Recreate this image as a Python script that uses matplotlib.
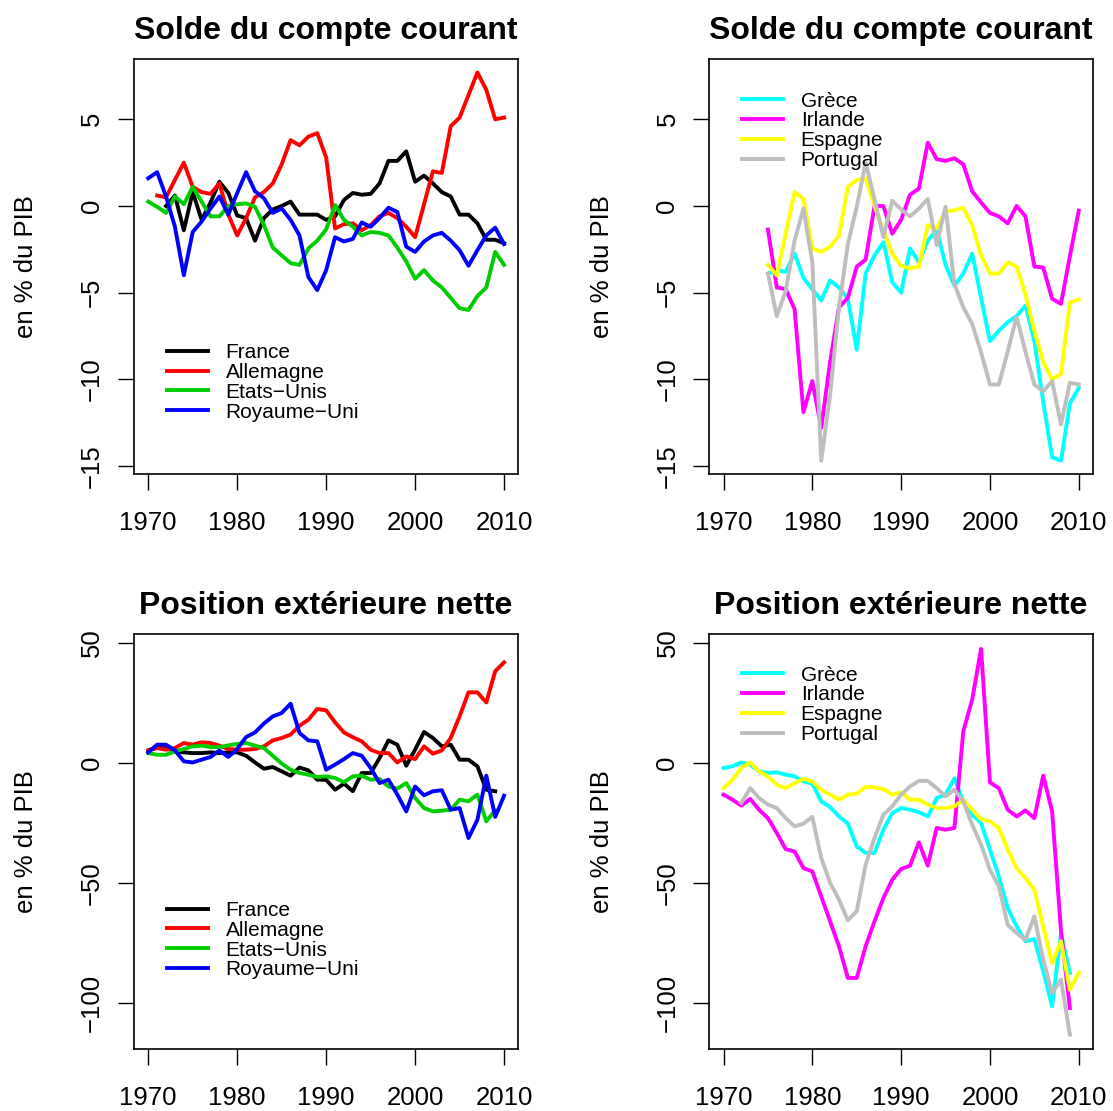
import matplotlib.pyplot as plt
import numpy as np

plt.rcParams['font.family'] = ['Liberation Sans', 'DejaVu Sans']

nan = np.nan
years = np.arange(1970, 2011)

# Solde du compte courant, % du PIB (1970-2010)
cc_france = [nan, nan, 0.0, 0.6, -1.4, 0.8, -0.8, 0.2, 1.4, 0.75, -0.55, -0.7, -2.0, -0.7, -0.2, 0.0,
             0.25, -0.5, -0.5, -0.5, -0.8, -0.6, 0.35, 0.75, 0.65, 0.7, 1.3, 2.6, 2.6, 3.15, 1.4,
             1.75, 1.3, 0.8, 0.55, -0.5, -0.5, -1.0, -1.95, -1.95, -2.15]
cc_allemagne = [nan, 0.6, 0.5, 1.5, 2.5, 1.1, 0.8, 0.7, 1.3, -0.5, -1.7, -0.7, 0.5, 0.8, 1.3, 2.4,
                3.8, 3.5, 4.0, 4.2, 2.8, -1.3, -1.05, -1.0, -1.4, -1.1, -0.6, -0.4, -0.7, -1.2, -1.8,
                0.1, 2.0, 1.9, 4.6, 5.1, 6.4, 7.7, 6.7, 5.0, 5.1]
cc_etatsunis = [0.25, -0.05, -0.4, 0.55, 0.1, 1.1, 0.25, -0.6, -0.6, 0.0, 0.1, 0.15, -0.05, -1.1,
                -2.4, -2.85, -3.3, -3.4, -2.45, -2.0, -1.35, 0.05, -0.8, -1.2, -1.7, -1.5, -1.55,
                -1.7, -2.4, -3.2, -4.2, -3.7, -4.3, -4.7, -5.3, -5.9, -6.0, -5.2, -4.7, -2.65, -3.4]
cc_royaumeuni = [1.6, 1.95, 0.55, -1.2, -4.0, -1.5, -0.9, -0.15, 0.55, -0.5, 0.75, 1.95, 0.85, 0.45,
                 -0.4, -0.15, -0.8, -1.7, -4.1, -4.85, -3.7, -1.8, -2.05, -1.9, -0.95, -1.2, -0.7,
                 -0.1, -0.35, -2.35, -2.65, -2.05, -1.7, -1.55, -2.0, -2.55, -3.45, -2.55, -1.7,
                 -1.25, -2.2]

pad5 = [nan] * 5
cc_grece = pad5 + [-3.9, -3.7, -3.8, -2.75, -4.15, -4.8, -5.45, -4.3, -4.7, -5.35, -8.3, -3.9, -2.85,
                   -2.1, -4.4, -5.0, -2.45, -3.25, -2.0, -1.4, -3.4, -4.6, -3.9, -2.75, -5.3, -7.8,
                   -7.2, -6.7, -6.35, -5.75, -7.8, -11.3, -14.5, -14.7, -11.4, -10.5]
cc_irlande = pad5 + [-1.36, -4.7, -4.8, -5.95, -11.9, -10.1, -12.8, -9.0, -5.85, -5.3, -3.5, -3.1,
                     0.0, 0.0, -1.6, -0.8, 0.65, 1.0, 3.65, 2.7, 2.6, 2.75, 2.4, 0.85, 0.2, -0.4,
                     -0.6, -1.0, 0.0, -0.6, -3.5, -3.55, -5.35, -5.65, -2.9, -0.27]
cc_espagne = pad5 + [-3.4, -4.0, -1.6, 0.8, 0.4, -2.45, -2.65, -2.35, -1.7, 1.1, 1.5, 1.6, 0.0,
                     -1.4, -2.75, -3.45, -3.6, -3.5, -1.1, -1.3, -0.3, -0.25, -0.1, -1.1, -2.85,
                     -3.9, -3.9, -3.25, -3.5, -5.1, -7.2, -9.0, -10.0, -9.7, -5.56, -5.4]
cc_portugal = pad5 + [-3.9, -6.35, -4.9, -2.0, -0.15, -3.25, -14.7, -10.9, -5.85, -2.2, -0.05, 2.5,
                      0.4, -1.8, 0.3, -0.2, -0.6, -0.15, 0.4, -2.25, -0.05, -4.5, -5.85, -6.8,
                      -8.45, -10.3, -10.3, -8.4, -6.4, -8.4, -10.3, -10.7, -10.1, -12.6, -10.2,
                      -10.3]

# Position extérieure nette, % du PIB (1970-2010)
pen_france = [5.1, 6.5, 6.1, 4.7, 4.3, 4.0, 4.0, 4.3, 4.0, 4.3, 4.3, 2.9, 0.1, -2.5, -1.8, -3.6,
              -5.4, -2.0, -3.2, -7.1, -7.1, -11.25, -8.75, -11.9, -4.3, -4.3, 1.9, 9.3, 7.5, -1.25,
              5.4, 12.8, 10.3, 6.8, 7.5, 1.25, 1.25, -1.5, -11.25, -11.9, nan]
pen_allemagne = [5.1, 6.1, 5.4, 6.1, 8.2, 7.5, 8.5, 8.2, 7.1, 5.7, 5.4, 5.4, 5.7, 6.8, 9.3, 10.3,
                 11.7, 15.4, 17.9, 22.4, 21.8, 16.8, 12.6, 10.6, 8.9, 5.4, 4.0, 4.0, 0.1, 2.6, 1.5,
                 6.8, 3.75, 5.1, 10.3, 19.3, 29.3, 29.3, 25.1, 38.1, 41.8]
pen_etatsunis = [4.0, 3.3, 3.3, 4.7, 5.7, 6.8, 7.1, 6.5, 6.5, 7.2, 7.8, 8.2, 7.1, 6.1, 2.9, -0.4,
                 -2.9, -4.3, -5.0, -6.0, -5.7, -6.4, -8.1, -5.7, -5.4, -7.1, -6.8, -9.9, -10.8,
                 -8.5, -14.7, -18.9, -20.3, -20.0, -19.6, -15.4, -16.1, -13.3, -24.4, -19.9, nan]
pen_royaumeuni = [4.3, 7.5, 7.5, 5.1, 0.55, 0.1, 1.25, 2.4, 5.0, 2.4, 5.7, 10.7, 12.6, 16.3, 19.3,
                  20.7, 24.6, 12.4, 9.3, 8.9, -2.9, -0.8, 1.5, 4.0, 2.9, -2.2, -8.5, -7.1, -13.3,
                  -20.3, -9.9, -13.6, -11.9, -11.5, -19.6, -18.9, -31.4, -23.8, -5.4, -22.6, -13.75]

pen_grece = [-2.2, -1.5, 0.1, -0.8, -3.6, -4.3, -4.0, -5.0, -5.7, -7.8, -8.75, -16.1, -18.5, -22.4,
             -25.4, -34.9, -37.6, -37.6, -27.9, -21.0, -18.9, -19.6, -20.6, -22.4, -14.7, -13.3,
             -6.5, -16.1, -21.7, -25.1, -36.2, -47.4, -60.6, -68.2, -74.4, -73.5, -86.9, -101.5,
             -71.0, -87.6, nan]
pen_irlande = [-13.3, -15.4, -17.9, -15.1, -19.6, -23.1, -29.3, -36.0, -37.0, -43.9, -45.3, -55.7,
               -66.1, -76.5, -89.7, -89.7, -76.5, -66.1, -56.4, -48.75, -44.3, -42.9, -33.2,
               -42.9, -27.2, -27.9, -27.2, 13.1, 26.25, 47.4, -8.2, -10.6, -19.6, -22.4, -19.9,
               -23.1, -5.4, -20.3, -70.0, -102.2, nan]
pen_espagne = [-10.6, -7.1, -2.2, 0.1, -3.6, -5.7, -9.2, -10.6, -8.5, -6.7, -7.8, -11.25, -13.3,
               -15.4, -13.3, -12.9, -10.1, -10.3, -11.0, -13.3, -12.4, -15.4, -15.4, -17.5, -18.9,
               -18.9, -18.2, -15.4, -19.6, -23.5, -24.4, -27.2, -36.25, -43.9, -48.1, -52.9,
               -68.2, -83.5, -74.4, -94.6, -87.6]
pen_portugal = [nan, nan, -16.8, -10.6, -14.7, -17.5, -18.9, -23.1, -26.5, -25.4, -22.6, -39.7,
                -50.1, -57.1, -65.7, -61.9, -42.5, -31.4, -21.7, -18.2, -13.3, -9.9, -7.6, -7.6,
                -10.6, -14.0, -11.25, -16.1, -25.8, -34.2, -44.6, -51.5, -67.5, -71.0, -73.8,
                -64.0, -82.1, -96.0, -90.4, -113.3, nan]

noms_g = ['France', 'Allemagne', 'Etats\u2212Unis', 'Royaume\u2212Uni']
coul_g = ['black', '#FF0000', '#00CD00', '#0000FF']
noms_d = ['Grèce', 'Irlande', 'Espagne', 'Portugal']
coul_d = ['#00FFFF', '#FF00FF', '#FFFF00', '#BEBEBE']

fig = plt.figure(figsize=(11.13, 11.11), dpi=100)


def panel(rect, titre, series, noms, couleurs, ylim, yticks, leg_pos):
    ax = fig.add_axes(rect)
    for y, nom, c in zip(series, noms, couleurs):
        ax.plot(years, y, color=c, lw=2.8, label=nom)
    ax.set_xlim(1968.4, 2011.6)
    ax.set_ylim(*ylim)
    ax.set_xticks([1970, 1980, 1990, 2000, 2010])
    ax.set_yticks(yticks)
    ax.tick_params(length=11.5, width=1, labelsize=18.5)
    ax.tick_params(axis='x', pad=15)
    ax.tick_params(axis='y', pad=10)
    for t in ax.get_yticklabels():
        t.set_rotation(90)
        t.set_va('center')
    for s in ax.spines.values():
        s.set_linewidth(1.2)
    ax.set_title(titre, fontsize=23, fontweight='bold', pad=14.4)
    ax.set_ylabel('en % du PIB', fontsize=18.5, va='center')
    ax.yaxis.set_label_coords(-0.281, 0.5)
    ax.legend(loc='upper left', bbox_to_anchor=leg_pos, frameon=False, fontsize=15,
              handlelength=1.97, handletextpad=0.86, labelspacing=0.04,
              borderpad=0, borderaxespad=0)
    return ax


ylim_cc = (-15.46, 8.46)
ylim_pen = (-119.3, 53.6)
panel([0.1204, 0.5734, 0.3453, 0.3732], 'Solde du compte courant',
      [cc_france, cc_allemagne, cc_etatsunis, cc_royaumeuni], noms_g, coul_g,
      ylim_cc, [-15, -10, -5, 0, 5], (0.085, 0.3157))
panel([0.6373, 0.5734, 0.3447, 0.3732], 'Solde du compte courant',
      [cc_grece, cc_irlande, cc_espagne, cc_portugal], noms_d, coul_d,
      ylim_cc, [-15, -10, -5, 0, 5], (0.0844, 0.9223))
panel([0.1204, 0.0558, 0.3453, 0.3735], 'Position extérieure nette',
      [pen_france, pen_allemagne, pen_etatsunis, pen_royaumeuni], noms_g, coul_g,
      ylim_pen, [-100, -50, 0, 50], (0.085, 0.357))
panel([0.6373, 0.0558, 0.3447, 0.3735], 'Position extérieure nette',
      [pen_grece, pen_irlande, pen_espagne, pen_portugal], noms_d, coul_d,
      ylim_pen, [-100, -50, 0, 50], (0.0844, 0.924))

fig.savefig('out.png', dpi=100)
